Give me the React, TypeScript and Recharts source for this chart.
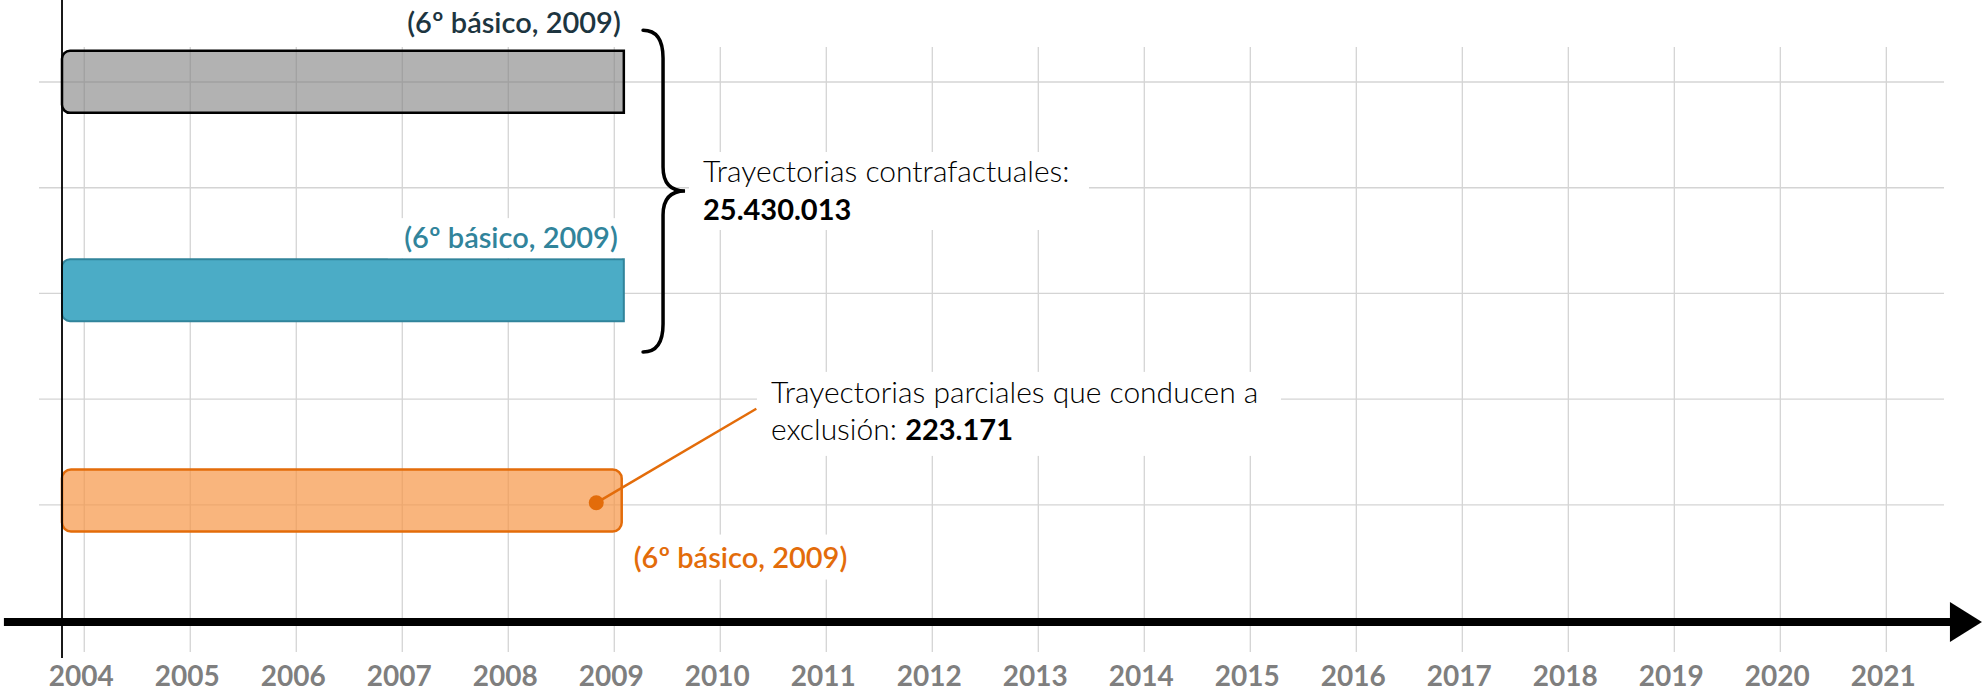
import React from 'react';
import {
  ComposedChart,
  Bar,
  XAxis,
  YAxis,
  CartesianGrid,
  ReferenceLine,
  ReferenceDot,
  LabelList,
  Rectangle,
} from 'recharts';

// ---------- data ----------
const years = [2004, 2005, 2006, 2007, 2008, 2009, 2010, 2011, 2012, 2013, 2014, 2015, 2016, 2017, 2018, 2019, 2020, 2021];
const rowIds = ['contrafactual_1', 'contrafactual_2', 'exclusion'];
const rowPositions = [5, 3.03, 1.04];
const startYears = [2003.79, 2003.79, 2003.79];
const endYears = [2009.09, 2009.09, 2009.07];
const barLabels = ['(6º básico, 2009)', '(6º básico, 2009)', '(6º básico, 2009)'];
const rowTicks = [1, 2, 3, 4, 5];
const xDomain = [2003.573, 2021.544];
const yDomain = [-0.391, 5.331];

const contrafactualText = 'Trayectorias contrafactuales:';
const contrafactualTotal = '25.430.013';
const exclusionLine1 = 'Trayectorias parciales que conducen a';
const exclusionLine2 = 'exclusión: ';
const exclusionTotal = '223.171';

// annotation anchors (data units)
const verticalAxisYear = 2003.79;
const verticalAxisSpan = [5.776, -0.448];
const timeAxisRow = -0.107;
const timeAxisSpan = [2003.242, 2021.6];
const braceYear = 2009.46;
const braceSpan = [5.49, 2.446];
const contrafactualAnchor = { x: 2009.837, y: 4.054 };
const exclusionAnchor = { x: 2010.478, y: 1.965 };
const leaderStart = { x: 2008.83, y: 1.02 };
const leaderEnd = { x: 2010.34, y: 1.91 };

const rows = rowIds.map((id, i) => ({
  id,
  pos: rowPositions[i],
  range: [startYears[i], endYears[i]],
  label: barLabels[i],
}));

// ---------- styles ----------
const FONT = 'Lato, "Open Sans", sans-serif';
const barStyles = [
  { fill: '#7F7F7F', fillOpacity: 0.6, stroke: '#000000', strokeWidth: 2.5, radius: [8, 0, 0, 8], labelColor: '#1d3540', labelPos: 'above', inset: 3, gap: 18 },
  { fill: '#4BACC6', fillOpacity: 1, stroke: '#31849B', strokeWidth: 2, radius: [8, 0, 0, 8], labelColor: '#31849B', labelPos: 'above', inset: 6, gap: 11 },
  { fill: '#F79646', fillOpacity: 0.7, stroke: '#E36C0A', strokeWidth: 2.5, radius: [9, 9, 9, 9], labelColor: '#E36C0A', labelPos: 'below', inset: 12, gap: 36 },
];

const styleFor = (props: any) => {
  const i = typeof props.index === 'number' ? props.index : rows.indexOf(props.payload);
  return barStyles[i] ?? barStyles[0];
};

const BarShape = (props: any) => {
  const s = styleFor(props);
  return (
    <Rectangle
      x={props.x}
      y={props.y}
      width={props.width}
      height={props.height}
      radius={s.radius as any}
      fill={s.fill}
      fillOpacity={s.fillOpacity}
      stroke={s.stroke}
      strokeWidth={s.strokeWidth}
    />
  );
};

const BarLabel = (props: any) => {
  const vb = props.viewBox && typeof props.viewBox.x === 'number' ? props.viewBox : props;
  const s = barStyles[props.index] ?? barStyles[0];
  const right = vb.x + vb.width;
  const boxW = 234;
  if (s.labelPos === 'above') {
    const base = vb.y - s.gap;
    return (
      <g>
        <rect x={right - s.inset - boxW + 4} y={base - 30} width={boxW} height={40} fill="#ffffff" />
        <text x={right - s.inset} y={base} textAnchor="end" fontSize={29} fontFamily={FONT} fontWeight={600} fill={s.labelColor}>
          {props.value}
        </text>
      </g>
    );
  }
  const base = vb.y + vb.height + s.gap;
  return (
    <g>
      <rect x={right + s.inset - 8} y={base - 33} width={boxW} height={45} fill="#ffffff" />
      <text x={right + s.inset} y={base} textAnchor="start" fontSize={29} fontFamily={FONT} fontWeight={600} fill={s.labelColor}>
        {props.value}
      </text>
    </g>
  );
};

const YearTick = (props: any) => {
  const { x, y, payload } = props;
  return (
    <text x={x - 3} y={y} dy={26} textAnchor="middle" fontSize={28} fontFamily={FONT} fontWeight={700} fill="#7f7f7f">
      {payload.value}
    </text>
  );
};

const BraceShape = (p: any) => {
  const x = p.x1;
  const top = Math.min(p.y1, p.y2);
  const bot = Math.max(p.y1, p.y2);
  const mid = (top + bot) / 2;
  const hook = x - 20;
  const tip = x + 22;
  const d = `M${hook},${top} Q${x},${top} ${x},${top + 28} L${x},${mid - 24} Q${x},${mid} ${tip},${mid} Q${x},${mid} ${x},${mid + 24} L${x},${bot - 28} Q${x},${bot} ${hook},${bot}`;
  return <path d={d} fill="none" stroke="#000000" strokeWidth={3.5} strokeLinecap="round" />;
};

const ArrowAxisShape = (p: any) => {
  const y = p.y1;
  const xs = Math.min(p.x1, p.x2);
  const xe = Math.max(p.x1, p.x2);
  return (
    <g>
      <line x1={xs} y1={y} x2={xe + 1} y2={y} stroke="#000000" strokeWidth={8} />
      <polygon points={`${xe},${y - 20} ${xe + 32},${y} ${xe},${y + 20}`} fill="#000000" />
    </g>
  );
};

const ContrafactualNote = (p: any) => {
  const { cx, cy } = p;
  return (
    <g>
      <rect x={cx - 14} y={cy - 30} width={400} height={78} fill="#ffffff" />
      <text x={cx} y={cy} fontSize={30} fontFamily={FONT} fontWeight={300} fill="#000000">
        {contrafactualText}
      </text>
      <text x={cx} y={cy + 38} fontSize={29} fontFamily={FONT} fontWeight={700} fill="#000000">
        {contrafactualTotal}
      </text>
    </g>
  );
};

const ExclusionNote = (p: any) => {
  const { cx, cy } = p;
  return (
    <g>
      <rect x={cx - 14} y={cy - 31} width={524} height={84} fill="#ffffff" />
      <text x={cx} y={cy} fontSize={30} fontFamily={FONT} fontWeight={300} fill="#000000">
        {exclusionLine1}
      </text>
      <text x={cx} y={cy + 37} fontSize={30} fontFamily={FONT} fontWeight={300} fill="#000000">
        {exclusionLine2}
        <tspan fontWeight={700} fontSize={29}>{exclusionTotal}</tspan>
      </text>
    </g>
  );
};

export default function App() {
  return (
    <div style={{ position: 'absolute', left: 0, top: 0, width: 1982, height: 693, background: '#ffffff' }}>
      <ComposedChart
        width={1982}
        height={693}
        data={rows}
        layout="vertical"
        margin={{ top: 47, right: 38, bottom: 0, left: 39 }}
      >
        <CartesianGrid
          stroke="#d4d4d4"
          strokeWidth={1.3}
          horizontalValues={rowTicks}
          verticalValues={years}
          syncWithTicks
        />
        <XAxis
          type="number"
          dataKey="range"
          domain={xDomain}
          ticks={years}
          interval={0}
          allowDataOverflow
          axisLine={false}
          tickLine={false}
          height={41}
          tick={<YearTick />}
        />
        <YAxis type="number" dataKey="pos" domain={yDomain} ticks={rowTicks} allowDataOverflow reversed hide width={0} />
        <Bar dataKey="range" barSize={62} shape={<BarShape />} isAnimationActive={false}>
          <LabelList dataKey="label" content={<BarLabel />} />
        </Bar>
        <ReferenceLine
          segment={[{ x: verticalAxisYear, y: verticalAxisSpan[0] }, { x: verticalAxisYear, y: verticalAxisSpan[1] }]}
          stroke="#000000"
          strokeWidth={1.8}
          ifOverflow="visible"
        />
        <ReferenceLine
          segment={[{ x: timeAxisSpan[0], y: timeAxisRow }, { x: timeAxisSpan[1], y: timeAxisRow }]}
          ifOverflow="visible"
          shape={<ArrowAxisShape />}
        />
        <ReferenceLine
          segment={[{ x: braceYear, y: braceSpan[0] }, { x: braceYear, y: braceSpan[1] }]}
          ifOverflow="visible"
          shape={<BraceShape />}
        />
        <ReferenceDot x={contrafactualAnchor.x} y={contrafactualAnchor.y} r={0} ifOverflow="visible" shape={<ContrafactualNote />} />
        <ReferenceDot x={exclusionAnchor.x} y={exclusionAnchor.y} r={0} ifOverflow="visible" shape={<ExclusionNote />} />
        <ReferenceLine
          segment={[leaderStart, leaderEnd]}
          stroke="#E36C0A"
          strokeWidth={2.5}
          ifOverflow="visible"
        />
        <ReferenceDot x={leaderStart.x} y={leaderStart.y} r={7.5} fill="#E36C0A" stroke="none" ifOverflow="visible" />
      </ComposedChart>
    </div>
  );
}
